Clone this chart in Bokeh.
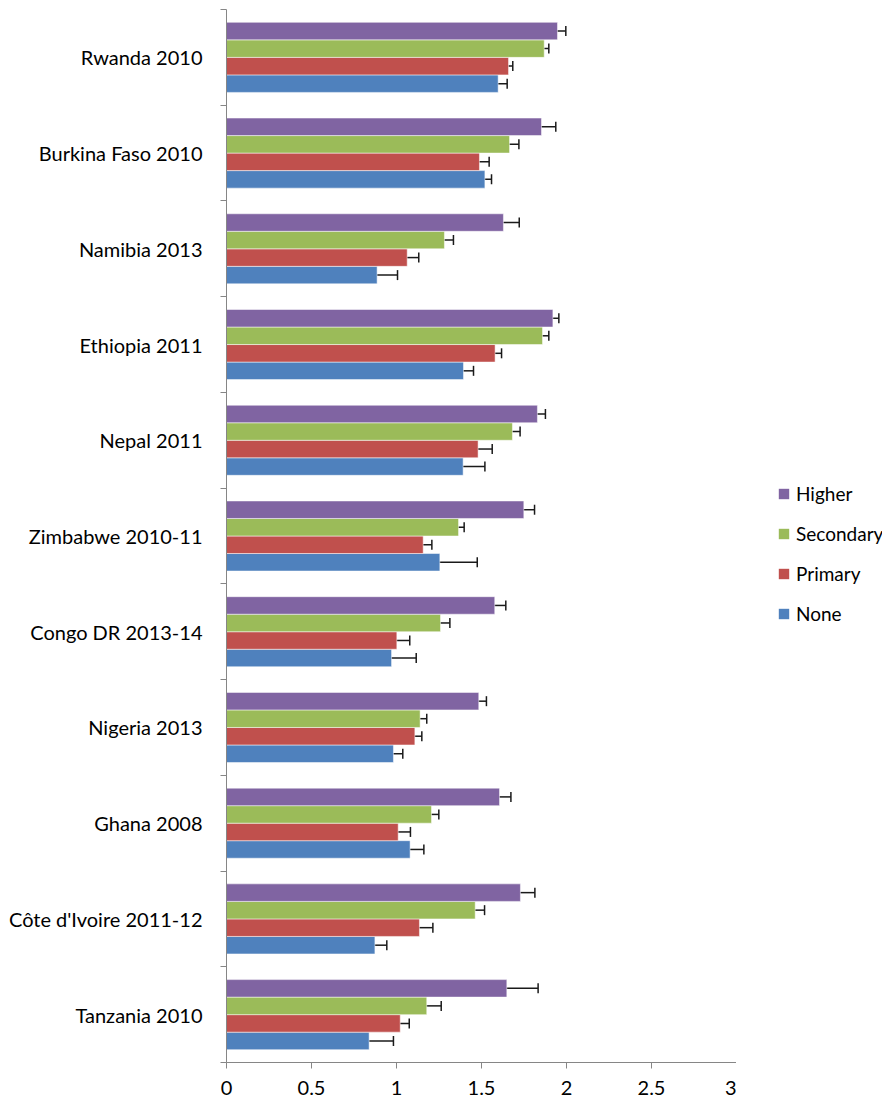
from bokeh.plotting import figure
from bokeh.layouts import row
from bokeh.models import (ColumnDataSource, Range1d, FixedTicker, Whisker, TeeHead,
                          Legend, LegendItem)
from bokeh.embed import file_html
from bokeh.resources import INLINE

# Categories, top to bottom as in the chart
categories = ["Rwanda 2010", "Burkina Faso 2010", "Namibia 2013", "Ethiopia 2011",
              "Nepal 2011", "Zimbabwe 2010-11", "Congo DR 2013-14", "Nigeria 2013",
              "Ghana 2008", "Côte d'Ivoire 2011-12", "Tanzania 2010"]

series_names = ["Higher", "Secondary", "Primary", "None"]

higher = [1.947, 1.853, 1.629, 1.920, 1.829, 1.749, 1.578, 1.484, 1.606, 1.729, 1.649]
higher_lo = [1.902, 1.773, 1.541, 1.888, 1.782, 1.686, 1.516, 1.445, 1.541, 1.645, 1.465]
higher_hi = [1.996, 1.937, 1.722, 1.955, 1.876, 1.812, 1.643, 1.529, 1.673, 1.814, 1.833]

secondary = [1.869, 1.665, 1.282, 1.859, 1.682, 1.365, 1.259, 1.139, 1.206, 1.463, 1.178]
secondary_lo = [1.842, 1.614, 1.229, 1.824, 1.641, 1.335, 1.208, 1.104, 1.165, 1.408, 1.096]
secondary_hi = [1.896, 1.720, 1.335, 1.896, 1.727, 1.398, 1.314, 1.178, 1.249, 1.518, 1.263]

primary = [1.659, 1.488, 1.063, 1.580, 1.480, 1.157, 1.002, 1.108, 1.010, 1.135, 1.022]
primary_lo = [1.637, 1.431, 0.996, 1.543, 1.404, 1.112, 0.927, 1.063, 0.939, 1.061, 0.973]
primary_hi = [1.684, 1.545, 1.131, 1.618, 1.563, 1.208, 1.078, 1.149, 1.082, 1.214, 1.075]

none = [1.598, 1.520, 0.886, 1.394, 1.392, 1.255, 0.971, 0.982, 1.080, 0.873, 0.839]
none_lo = [1.551, 1.482, 0.773, 1.333, 1.271, 1.037, 0.824, 0.931, 1.000, 0.804, 0.700]
none_hi = [1.651, 1.559, 1.006, 1.453, 1.520, 1.475, 1.116, 1.037, 1.161, 0.943, 0.982]

x_ticks = [0, 0.5, 1, 1.5, 2, 2.5, 3]
x_tick_labels = ["0", "0.5", "1", "1.5", "2", "2.5", "3"]

colors = {"Higher": "#8064A2", "Secondary": "#9BBB59", "Primary": "#C0504D", "None": "#4F81BD"}

n = len(categories)
centers = [n - 1 - i + 0.5 for i in range(n)]   # top category highest
bar_h = 0.183
offsets = {"Higher": 1.5 * bar_h, "Secondary": 0.5 * bar_h,
           "Primary": -0.5 * bar_h, "None": -1.5 * bar_h}
data = {"Higher": (higher, higher_lo, higher_hi),
        "Secondary": (secondary, secondary_lo, secondary_hi),
        "Primary": (primary, primary_lo, primary_hi),
        "None": (none, none_lo, none_hi)}

FONT = "Lato"
H = 1104
p = figure(width=736, height=H, output_backend="svg", toolbar_location=None,
           x_range=Range1d(0, 3), y_range=Range1d(0, n),
           min_border_left=226, min_border_right=0, min_border_top=9, min_border_bottom=42)
p.outline_line_color = None
p.xgrid.visible = False
p.ygrid.visible = False

for name in ["None", "Primary", "Secondary", "Higher"]:
    vals, lo, hi = data[name]
    ys = [c + offsets[name] for c in centers]
    src = ColumnDataSource(dict(y=ys, v=vals, lo=lo, hi=hi))
    p.hbar(y="y", right="v", left=0, height=bar_h, source=src,
           fill_color=colors[name], line_color="#ffffff", line_alpha=0.5, line_width=1)
    w = Whisker(source=src, base="y", lower="lo", upper="hi", dimension="width",
                line_color="#1a1a1a", line_width=1.5,
                lower_head=TeeHead(size=10, line_color="#1a1a1a", line_width=1.5),
                upper_head=TeeHead(size=10, line_color="#1a1a1a", line_width=1.5))
    p.add_layout(w)

axis_color = "#868686"
# X axis
xa = p.xaxis[0]
xa.ticker = FixedTicker(ticks=x_ticks, minor_ticks=[])
xa.major_label_overrides = {t: l for t, l in zip(x_ticks, x_tick_labels)}
xa.axis_line_color = axis_color
xa.major_tick_line_color = axis_color
xa.major_tick_in = 0
xa.major_tick_out = 6
xa.minor_tick_line_color = None
xa.major_label_standoff = 12
xa.major_label_text_font = FONT
xa.major_label_text_font_size = "20px"
xa.major_label_text_color = "#000000"

# Y axis
ya = p.yaxis[0]
ya.ticker = FixedTicker(ticks=centers, minor_ticks=list(range(0, n + 1)))
ya.major_label_overrides = {c: cat for c, cat in zip(centers, categories)}
ya.axis_line_color = axis_color
ya.major_tick_line_color = None
ya.major_tick_in = 0
ya.major_tick_out = 0
ya.minor_tick_line_color = axis_color
ya.minor_tick_in = 0
ya.minor_tick_out = 6
ya.major_label_standoff = 18
ya.major_label_text_font = FONT
ya.major_label_text_font_size = "20px"
ya.major_label_text_color = "#000000"

# Legend in a companion figure to the right (swatches drawn off-range)
lf = figure(width=146, height=H, output_backend="svg", toolbar_location=None,
            x_range=Range1d(0, 1), y_range=Range1d(0, 1),
            min_border_left=0, min_border_right=0, min_border_top=0, min_border_bottom=0)
lf.axis.visible = False
lf.grid.visible = False
lf.outline_line_color = None
items = []
for name in series_names:
    r = lf.quad(left=[5], right=[6], top=[6], bottom=[5], fill_color=colors[name], line_color=None)
    items.append(LegendItem(label=name, renderers=[r]))
legend = Legend(items=items, location=(41, H - 667), orientation="vertical",
                padding=0, margin=0, border_line_color=None, background_fill_alpha=0,
                glyph_width=13, glyph_height=13, label_height=24, spacing=16,
                label_standoff=6, label_text_font=FONT, label_text_font_size="19px",
                label_text_color="#000000")
lf.add_layout(legend)

layout = row(p, lf)
open("out.html", "w").write(file_html(layout, INLINE))
